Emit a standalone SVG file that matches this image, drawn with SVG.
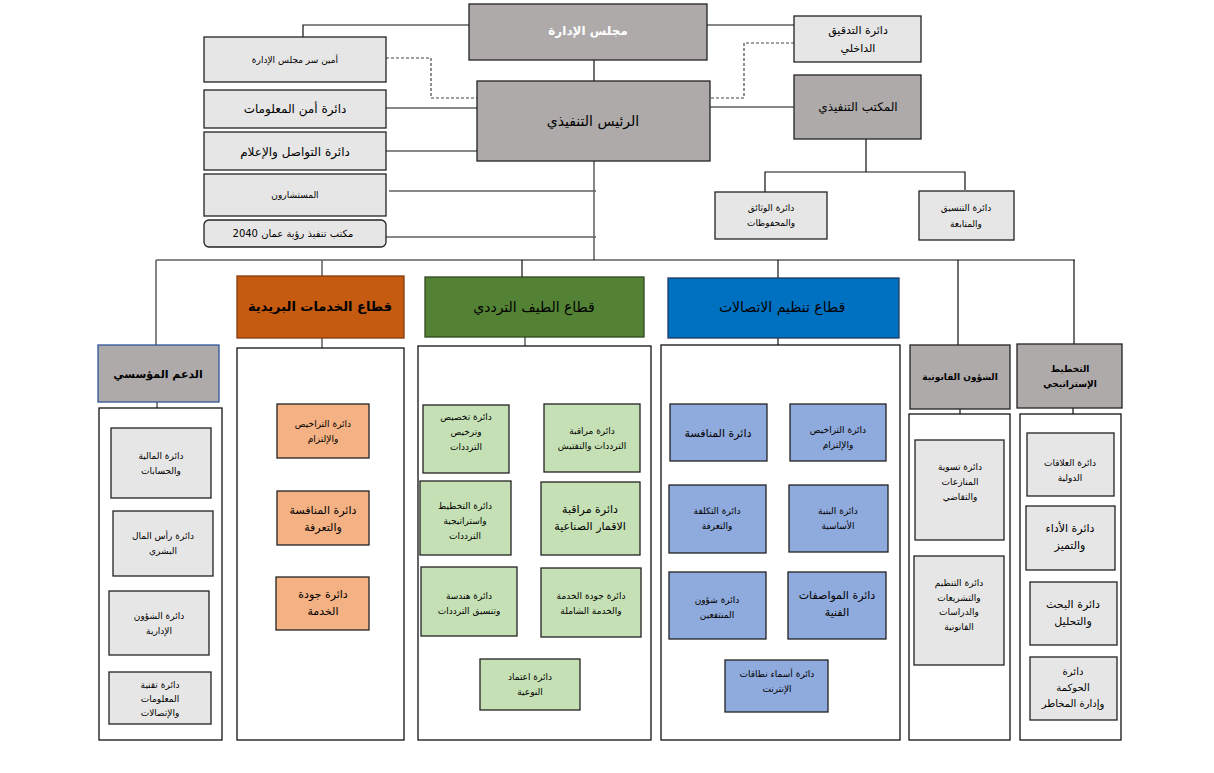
<svg xmlns="http://www.w3.org/2000/svg" width="1214" height="773" viewBox="0 0 1214 773">
<style>
text{font-family:"DejaVu Sans","Noto Sans",sans-serif;text-anchor:middle;fill:#000}
.gray{fill:#aeaaaa;stroke:#222;stroke-width:1.3}
.lg{fill:#e7e6e6;stroke:#222;stroke-width:1.3}
.cont{fill:#fff;stroke:#111;stroke-width:1.3}
.gr{fill:#c5e0b4;stroke:#222;stroke-width:1.3}
.bl{fill:#8faadc;stroke:#222;stroke-width:1.3}
.or{fill:#f4b183;stroke:#222;stroke-width:1.3}
.ln{stroke:#111;stroke-width:1.2;fill:none}
.lngr{stroke:#666;stroke-width:1.6;fill:none}
.dash{stroke:#444;stroke-width:1.2;fill:none;stroke-dasharray:3 2}
.s9{font-size:9px}.s10{font-size:10px}.s11{font-size:11px}.s12{font-size:12px}.s13{font-size:13px}.s14{font-size:14px}
.b{font-weight:bold}
</style>
<rect width="1214" height="773" fill="#fff"/>
<g id="connectors">
<path class="ln" d="M469 25H303V37"/>
<path class="ln" d="M707 25H794"/>
<path class="ln" d="M594 60V81"/>
<path class="dash" d="M386 58H431V98H477"/>
<path class="dash" d="M794 43H744V98H710"/>
<path class="ln" d="M386 108H477"/>
<path class="ln" d="M386 151H477"/>
<path class="ln" d="M389 191H596"/>
<path class="ln" d="M386 237H596"/>
<path class="lngr" d="M594 161V260"/>
<path class="ln" d="M710 107H794"/>
<path class="ln" d="M866 139V172M765 192V172H965V190"/>
<path class="ln" d="M156 260H1075"/>
<path class="lngr" d="M156 260V345"/>
<path class="lngr" d="M322 260V276"/>
<path class="ln" d="M522 260V277"/>
<path class="ln" d="M778 260V278"/>
<path class="ln" d="M958 260V345"/>
<path class="ln" d="M1074 260V344"/>
<path class="lngr" d="M157 402V428M158 498V511M160 576V591M159 655V672"/>
<path class="lngr" d="M322 338V404M322 458V491M322 545V577"/>
<path class="lngr" d="M525 337V659"/>
<path class="ln" d="M509 443H544M511 524H541M517 603H541"/>
<path class="ln" d="M778 338V660"/>
<path class="ln" d="M767 433H790M766 519H789M766 606H788"/>
<path class="ln" d="M960 409V440"/>
<path class="lngr" d="M960 540V556"/>
<path class="ln" d="M1073 408V433"/>
<path class="lngr" d="M1073 496V506M1073 570V582M1073 645V657"/>
</g>
<g id="containers">
<rect class="cont" x="99" y="408" width="123" height="332"/>
<rect class="cont" x="237" y="348" width="167" height="392"/>
<rect class="cont" x="418" y="346" width="233" height="394"/>
<rect class="cont" x="661" y="345" width="239" height="395"/>
<rect class="cont" x="909" y="414" width="101" height="326"/>
<rect class="cont" x="1020" y="414" width="101" height="326"/>
</g>
<g id="board"><rect class="gray" x="469" y="4" width="238" height="56"/><text class="s12 b" x="588" y="35" style="fill:#fff">مجلس الإدارة</text></g>
<g id="secretary"><rect class="lg" x="204" y="37" width="182" height="45"/><text class="s9" x="295" y="63">أمين سر مجلس الإدارة</text></g>
<g id="ceo"><rect class="gray" x="477" y="81" width="233" height="80"/><text class="s14" x="593" y="126">الرئيس التنفيذي</text></g>
<g id="infosec"><rect class="lg" x="204" y="90" width="182" height="38"/><text class="s12" x="295" y="113">دائرة أمن المعلومات</text></g>
<g id="comm"><rect class="lg" x="204" y="132" width="182" height="38"/><text class="s12" x="295" y="156">دائرة التواصل والإعلام</text></g>
<g id="advisors"><rect class="lg" x="204" y="174" width="182" height="42"/><text class="s9" x="295" y="198">المستشارون</text></g>
<g id="vision"><rect class="lg" x="204" y="220" width="182" height="27" rx="5"/><text class="s10" x="293" y="237">مكتب تنفيذ رؤية عمان 2040</text></g>
<g id="audit"><rect class="lg" x="794" y="16" width="127" height="46"/><text class="s11" x="858" y="34">دائرة التدقيق</text><text class="s11" x="858" y="52">الداخلي</text></g>
<g id="execoffice"><rect class="gray" x="794" y="75" width="127" height="64"/><text class="s12" x="858" y="111">المكتب التنفيذي</text></g>
<g id="archives"><rect class="lg" x="715" y="192" width="112" height="47"/><text class="s9" x="771" y="211">دائرة الوثائق</text><text class="s9" x="771" y="226">والمحفوظات</text></g>
<g id="coord"><rect class="lg" x="919" y="191" width="95" height="49"/><text class="s9" x="966" y="211">دائرة التنسيق</text><text class="s9" x="966" y="227">والمتابعة</text></g>
<g id="postal"><rect x="237" y="276" width="167" height="62" fill="#c55a11" stroke="#843c0c" stroke-width="1.3"/><text class="s13 b" x="320" y="311">قطاع الخدمات البريدية</text></g>
<g id="support"><rect x="98" y="345" width="121" height="57" fill="#aeaaaa" stroke="#2f5597" stroke-width="1.3"/><text class="s11 b" x="158" y="378">الدعم المؤسسي</text></g>
<g id="spectrum"><rect x="425" y="277" width="219" height="60" fill="#548235" stroke="#2e4a1e" stroke-width="1.3"/><text class="s14" x="534" y="312">قطاع الطيف الترددي</text></g>
<g id="telecom"><rect x="668" y="278" width="231" height="60" fill="#0070c0" stroke="#1f3b63" stroke-width="1.3"/><text class="s14" x="782" y="312">قطاع تنظيم الاتصالات</text></g>
<g id="legal"><rect class="gray" x="910" y="345" width="100" height="64"/><text class="s9 b" x="960" y="380">الشؤون القانونية</text></g>
<g id="strategic"><rect class="gray" x="1017" y="344" width="105" height="64"/><text class="s9 b" x="1070" y="372">التخطيط</text><text class="s9 b" x="1070" y="387">الإستراتيجي</text></g>
<g id="s1"><rect class="lg" x="111" y="428" width="100" height="70"/><text class="s9" x="161" y="459">دائرة المالية</text><text class="s9" x="161" y="474">والحسابات</text></g>
<g id="s2"><rect class="lg" x="113" y="511" width="100" height="65"/><text class="s9" x="163" y="539">دائرة رأس المال</text><text class="s9" x="163" y="554">البشري</text></g>
<g id="s3"><rect class="lg" x="109" y="591" width="100" height="64"/><text class="s9" x="159" y="619">دائرة الشؤون</text><text class="s9" x="159" y="634">الإدارية</text></g>
<g id="s4"><rect class="lg" x="109" y="672" width="102" height="52"/><text class="s9" x="160" y="688">دائرة تقنية</text><text class="s9" x="160" y="702">المعلومات</text><text class="s9" x="160" y="716">والإتصالات</text></g>
<g id="p1"><rect class="or" x="277" y="404" width="92" height="54"/><text class="s9" x="323" y="427">دائرة التراخيص</text><text class="s9" x="323" y="442">والإلتزام</text></g>
<g id="p2"><rect class="or" x="277" y="491" width="92" height="54"/><text class="s11" x="323" y="514">دائرة المنافسة</text><text class="s11" x="323" y="531">والتعرفة</text></g>
<g id="p3"><rect class="or" x="276" y="577" width="93" height="53"/><text class="s11" x="323" y="598">دائرة جودة</text><text class="s11" x="323" y="615">الخدمة</text></g>
<g id="g1"><rect class="gr" x="423" y="405" width="86" height="68"/><text class="s9" x="466" y="420">دائرة تخصيص</text><text class="s9" x="466" y="435">وترخيص</text><text class="s9" x="466" y="450">الترددات</text></g>
<g id="g2"><rect class="gr" x="544" y="404" width="96" height="68"/><text class="s9" x="592" y="434">دائرة مراقبة</text><text class="s9" x="592" y="449">الترددات والتفتيش</text></g>
<g id="g3"><rect class="gr" x="420" y="481" width="91" height="74"/><text class="s9" x="465" y="509">دائرة التخطيط</text><text class="s9" x="465" y="524">واستراتيجية</text><text class="s9" x="465" y="539">الترددات</text></g>
<g id="g4"><rect class="gr" x="541" y="482" width="99" height="73"/><text class="s11" x="590" y="513">دائرة مراقبة</text><text class="s11" x="590" y="530">الاقمار الصناعية</text></g>
<g id="g5"><rect class="gr" x="421" y="567" width="96" height="69"/><text class="s9" x="469" y="599">دائرة هندسة</text><text class="s9" x="469" y="614">وتنسيق الترددات</text></g>
<g id="g6"><rect class="gr" x="541" y="568" width="100" height="69"/><text class="s9" x="591" y="599">دائرة جودة الخدمة</text><text class="s9" x="591" y="614">والخدمة الشاملة</text></g>
<g id="g7"><rect class="gr" x="480" y="659" width="100" height="51"/><text class="s9" x="530" y="680">دائرة اعتماد</text><text class="s9" x="530" y="695">النوعية</text></g>
<g id="t1"><rect class="bl" x="670" y="404" width="97" height="57"/><text class="s11" x="718" y="437">دائرة المنافسة</text></g>
<g id="t2"><rect class="bl" x="790" y="404" width="96" height="57"/><text class="s9" x="838" y="433">دائرة التراخيص</text><text class="s9" x="838" y="448">والإلتزام</text></g>
<g id="t3"><rect class="bl" x="669" y="485" width="97" height="68"/><text class="s9" x="717" y="514">دائرة التكلفة</text><text class="s9" x="717" y="529">والتعرفة</text></g>
<g id="t4"><rect class="bl" x="789" y="485" width="99" height="67"/><text class="s9" x="838" y="514">دائرة البنية</text><text class="s9" x="838" y="529">الأساسية</text></g>
<g id="t5"><rect class="bl" x="669" y="572" width="97" height="67"/><text class="s9" x="717" y="603">دائرة شؤون</text><text class="s9" x="717" y="618">المنتفعين</text></g>
<g id="t6"><rect class="bl" x="788" y="572" width="98" height="67"/><text class="s11" x="837" y="599">دائرة المواصفات</text><text class="s11" x="837" y="616">الفنية</text></g>
<g id="t7"><rect class="bl" x="725" y="660" width="103" height="52"/><text class="s9" x="777" y="677">دائرة أسماء نطاقات</text><text class="s9" x="777" y="692">الإنترنت</text></g>
<g id="l1"><rect class="lg" x="915" y="440" width="89" height="100"/><text class="s9" x="960" y="470">دائرة تسوية</text><text class="s9" x="960" y="485">المنازعات</text><text class="s9" x="960" y="500">والتقاضي</text></g>
<g id="l2"><rect class="lg" x="914" y="556" width="90" height="109"/><text class="s9" x="959" y="586">دائرة التنظيم</text><text class="s9" x="959" y="601">والتشريعات</text><text class="s9" x="959" y="615">والدراسات</text><text class="s9" x="959" y="630">القانونية</text></g>
<g id="st1"><rect class="lg" x="1027" y="433" width="87" height="63"/><text class="s9" x="1070" y="466">دائرة العلاقات</text><text class="s9" x="1070" y="481">الدولية</text></g>
<g id="st2"><rect class="lg" x="1026" y="506" width="89" height="64"/><text class="s11" x="1070" y="532">دائرة الأداء</text><text class="s11" x="1070" y="549">والتميز</text></g>
<g id="st3"><rect class="lg" x="1030" y="582" width="87" height="63"/><text class="s11" x="1073" y="608">دائرة البحث</text><text class="s11" x="1073" y="625">والتحليل</text></g>
<g id="st4"><rect class="lg" x="1030" y="657" width="87" height="63"/><text class="s10" x="1073" y="675">دائرة</text><text class="s10" x="1073" y="691">الحوكمة</text><text class="s10" x="1073" y="707">وإدارة المخاطر</text></g>
</svg>
